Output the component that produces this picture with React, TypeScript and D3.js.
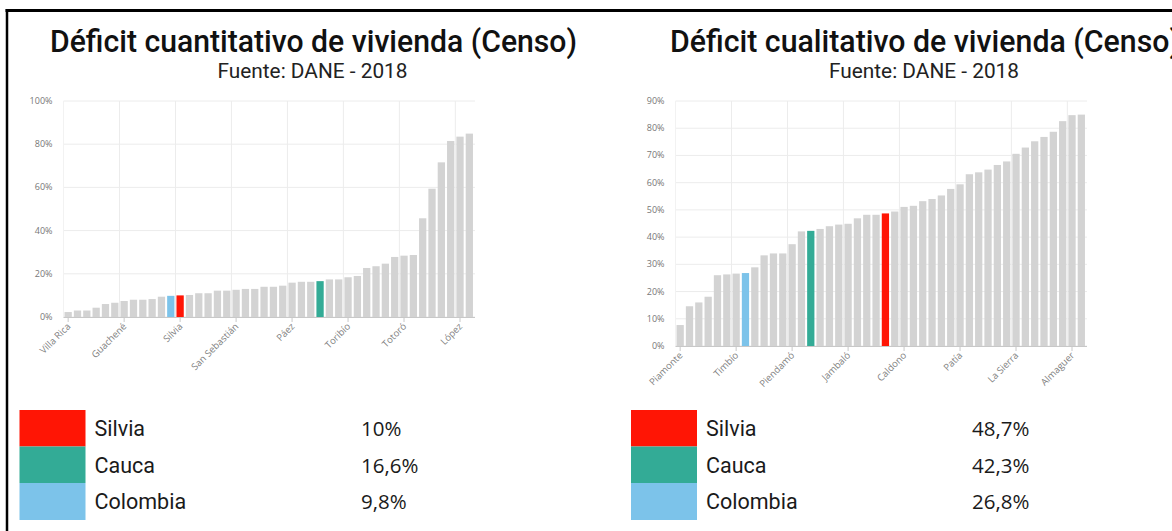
import * as d3 from "d3";

// ── Data, values are % of households ──
const leftValues = [
  2.3, 3, 3, 4.3, 6, 6.6, 7.4, 8, 8, 8.3, 9.4, 9.8, 10, 10.2, 11, 11,
  12.2, 12.2, 12.6, 13, 13, 14, 14, 14.5, 15.9, 16.3, 16.3, 16.6, 17.4, 17.4, 18.4, 19,
  22.7, 23.5, 24.7, 27.8, 28.4, 28.7, 45.7, 59.4, 71.6, 81.5, 83.5, 84.9,
];
const leftTickLabels = ["Villa Rica", "Guachené", "Silvia", "San Sebastián", "Páez", "Toribío", "Totoró", "López"];
const leftHighlightIdx = [12, 27, 11]; // Silvia, Cauca, Colombia
const leftLegendValues = ["10%", "16,6%", "9,8%"];

const rightValues = [
  7.7, 14.6, 16, 18.1, 26, 26.3, 26.6, 26.8, 28.9, 33.3, 34, 34, 37.4, 42.1, 42.3, 43,
  44, 44.6, 44.9, 46.9, 48.2, 48.2, 48.7, 49.4, 51.1, 51.5, 53.2, 54, 55.3, 57.7, 59.4, 63.1,
  63.8, 64.8, 66.5, 67.8, 70.6, 72.9, 75.2, 76.8, 78.7, 82.6, 84.8, 85,
];
const rightTickLabels = ["Piamonte", "Timbío", "Piendamó", "Jambaló", "Caldono", "Patía", "La Sierra", "Almaguer"];
const rightHighlightIdx = [22, 14, 7];
const rightLegendValues = ["48,7%", "42,3%", "26,8%"];

const legendNames = ["Silvia", "Cauca", "Colombia"];
const legendColors = ["#ff1505", "#33ab96", "#7cc3ea"];

const TICK_EVERY = 6;
const BAR_GRAY = "#d3d3d3";

type PanelProps = {
  values: number[];
  tickLabels: string[];
  highlightIdx: number[];
  legendValues: string[];
  title: string;
  titleX: number;
  titleW: number;
  x0: number;
  x1: number;
  yBase: number;
  yTop: number;
  yMax: number;
  yStep: number;
  swatchX: number;
  valueX: number;
};

function Panel(p: PanelProps) {
  const idx = p.values.map((_, i) => i);
  const x = d3.scaleBand<number>()
    .domain(idx)
    .range([p.x0, p.x1])
    .paddingInner(0.22)
    .paddingOuter(0.11);
  const y = d3.scaleLinear().domain([0, p.yMax]).range([p.yBase, p.yTop]);
  const gap = x.step() - x.bandwidth();
  const yTicks = d3.range(0, p.yMax + 0.01, p.yStep);
  const labelIdx = idx.filter(i => i % TICK_EVERY === 0);

  const colorOf = (i: number) => {
    const h = p.highlightIdx.indexOf(i);
    return h >= 0 ? legendColors[h] : BAR_GRAY;
  };

  const rowTop = [410, 446.5, 483];
  const rowH = [36.5, 36.5, 37];

  return (
    <g>
      {/* titles */}
      <text x={p.titleX} y={52} fontFamily="Roboto" fontWeight={500} fontSize={32}
        fill="#111" textLength={p.titleW} lengthAdjust="spacingAndGlyphs">
        {p.title}
      </text>
      <text x={p.titleX + p.titleW / 2 - 1} y={78} textAnchor="middle" fontFamily="Roboto"
        fontSize={21} fill="#222" textLength={190} lengthAdjust="spacingAndGlyphs">
        Fuente: DANE - 2018
      </text>

      {/* horizontal grid + y labels */}
      {yTicks.map(t => (
        <g key={t}>
          <line x1={p.x0} x2={p.x1 + 1} y1={y(t)} y2={y(t)} stroke="#ececec" strokeWidth={1} />
          <text x={p.x0 - 11} y={y(t) + 3} textAnchor="end" fontFamily="Open Sans"
            fontSize={9} fill="#777">
            {t}%
          </text>
        </g>
      ))}

      {/* vertical grid */}
      {labelIdx.filter(i => i > 0).map(i => (
        <line key={i} x1={x(i)! - gap / 2} x2={x(i)! - gap / 2} y1={p.yTop} y2={p.yBase}
          stroke="#ececec" strokeWidth={1} />
      ))}
      <line x1={p.x0} x2={p.x0} y1={p.yTop} y2={p.yBase} stroke="#f2f2f2" strokeWidth={1} />

      {/* bars */}
      {p.values.map((v, i) => (
        <rect key={i} x={x(i)} y={y(v)} width={x.bandwidth()} height={p.yBase - y(v)}
          fill={colorOf(i)} />
      ))}

      {/* x axis */}
      <line x1={p.x0} x2={p.x1 + 1} y1={p.yBase + 0.5} y2={p.yBase + 0.5} stroke="#c8c8c8" strokeWidth={1.2} />
      {labelIdx.map((i, k) => {
        const cx = x(i)! + x.bandwidth() / 2;
        return (
          <g key={i}>
            <line x1={cx} x2={cx} y1={p.yBase + 1} y2={p.yBase + 5} stroke="#c8c8c8" strokeWidth={1} />
            <text transform={`translate(${cx + 3},${p.yBase + 10}) rotate(-45)`} textAnchor="end"
              fontFamily="Open Sans" fontSize={9.5} fill="#808080">
              {p.tickLabels[k]}
            </text>
          </g>
        );
      })}

      {/* legend table */}
      {legendNames.map((name, k) => (
        <g key={name}>
          <rect x={p.swatchX} y={rowTop[k]} width={66} height={rowH[k]} fill={legendColors[k]} />
          <text x={p.swatchX + 75} y={rowTop[k] + 26} fontFamily="Roboto" fontSize={21.5} fill="#1a1a1a">
            {name}
          </text>
          <text x={p.valueX} y={rowTop[k] + 26} fontFamily="Open Sans" fontSize={20.5} fill="#1a1a1a">
            {p.legendValues[k]}
          </text>
        </g>
      ))}
    </g>
  );
}

export default function App() {
  return (
    <div style={{ position: "absolute", left: 0, top: 0, width: 1172, height: 531, background: "#fff" }}>
      <svg width={1172} height={531} viewBox="0 0 1172 531" style={{ display: "block" }}>
        <rect width={1172} height={531} fill="#fff" />
        {/* frame */}
        <line x1={5.5} x2={1172} y1={10.5} y2={10.5} stroke="#000" strokeWidth={3} />
        <line x1={7} x2={7} y1={9} y2={531} stroke="#000" strokeWidth={2.5} />

        <Panel
          values={leftValues}
          tickLabels={leftTickLabels}
          highlightIdx={leftHighlightIdx}
          legendValues={leftLegendValues}
          title="Déficit cuantitativo de vivienda (Censo)"
          titleX={50}
          titleW={527}
          x0={63.5}
          x1={474}
          yBase={317}
          yTop={101}
          yMax={100}
          yStep={20}
          swatchX={19.5}
          valueX={361}
        />
        <Panel
          values={rightValues}
          tickLabels={rightTickLabels}
          highlightIdx={rightHighlightIdx}
          legendValues={rightLegendValues}
          title="Déficit cualitativo de vivienda (Censo)"
          titleX={670}
          titleW={510}
          x0={675.5}
          x1={1086}
          yBase={346}
          yTop={101}
          yMax={90}
          yStep={10}
          swatchX={631}
          valueX={972}
        />
      </svg>
    </div>
  );
}
